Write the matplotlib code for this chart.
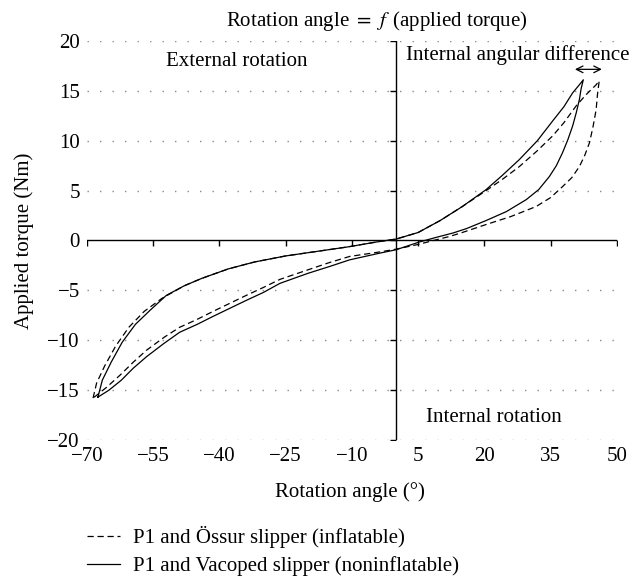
# -*- coding: utf-8 -*-
# Hysteresis loops: rotation angle vs applied torque, two slipper setups

import numpy as np
import matplotlib
matplotlib.use('Agg')
import matplotlib.pyplot as plt

plt.rcParams['font.family'] = ['Liberation Serif', 'DejaVu Serif']
plt.rcParams['mathtext.fontset'] = 'stix'
plt.rcParams['axes.unicode_minus'] = True

# ---------------------------------------------------------------- data ----
# P1 and Vacoped slipper (solid), loading branch (left tip -> right tip)
vac_up_x = [-67.5, -66.5, -64.5, -62.0, -59.0, -55.7, -52.0, -48.0, -44.0, -38.0,
            -32.0, -25.0, -18.0, -11.0, -4.0, 0.0, 5.0, 10.0, 15.0, 20.4,
            24.0, 27.9, 32.0, 35.5, 38.0, 40.0, 41.5, 42.4]
vac_up_y = [-15.7, -14.0, -12.2, -10.2, -8.4, -7.0, -5.5, -4.55, -3.8, -2.85,
            -2.15, -1.55, -1.1, -0.65, -0.12, 0.14, 0.8, 2.0, 3.4, 5.1,
            6.5, 8.1, 10.0, 12.0, 13.4, 14.8, 15.6, 16.1]
# unloading branch (right tip -> left tip)
vac_lo_x = [42.4, 41.9, 41.5, 40.8, 40.0, 38.9, 37.7, 36.3, 34.7, 32.3,
            29.5, 25.0, 20.4, 16.0, 12.9, 9.0, 5.3, 0.0, -3.7, -10.5,
            -15.0, -20.0, -26.3, -30.0, -33.9, -41.4, -45.0, -49.0, -52.5, -56.5,
            -59.5, -62.2, -65.0, -67.5]
vac_lo_y = [16.1, 15.2, 14.1, 12.8, 11.5, 10.1, 8.8, 7.5, 6.4, 5.1,
            4.1, 2.9, 2.0, 1.2, 0.75, 0.3, -0.15, -0.93, -1.27, -1.94,
            -2.6, -3.3, -4.3, -5.2, -6.0, -7.6, -8.4, -9.2, -10.3, -11.65,
            -12.8, -14.0, -15.0, -15.7]

# P1 and Ossur slipper (dashed)
oss_up_x = [-68.6, -67.8, -66.0, -63.5, -60.5, -57.0, -53.0, -48.0, -44.0, -38.0,
            -32.0, -25.0, -18.0, -11.0, -4.0, 0.0, 5.0, 10.0, 15.0, 20.4,
            24.0, 27.9, 32.0, 35.5, 38.0, 40.8, 43.0, 45.3, 46.0]
oss_up_y = [-15.8, -14.3, -12.6, -10.6, -8.7, -7.1, -5.8, -4.55, -3.8, -2.85,
            -2.15, -1.55, -1.1, -0.65, -0.12, 0.14, 0.8, 2.0, 3.4, 5.0,
            6.1, 7.4, 9.0, 10.5, 11.8, 13.5, 14.6, 15.6, 16.0]
oss_lo_x = [46.0, 45.6, 45.3, 44.6, 43.8, 42.7, 41.5, 39.8, 37.7, 35.0,
            31.7, 26.0, 20.4, 15.0, 12.1, 9.1, 5.0, 0.0, -3.7, -10.5,
            -15.0, -20.0, -26.3, -30.0, -33.9, -41.4, -45.0, -49.0, -52.5, -56.5,
            -59.5, -62.5, -65.5, -68.6]
oss_lo_y = [16.0, 14.6, 13.1, 11.4, 9.8, 8.5, 7.4, 6.3, 5.4, 4.3,
            3.4, 2.4, 1.6, 0.8, 0.4, 0.07, -0.4, -0.87, -1.15, -1.6,
            -2.2, -2.95, -3.9, -4.7, -5.5, -7.1, -7.9, -8.7, -9.7, -11.0,
            -12.2, -13.5, -14.7, -15.8]

xticks = [-70, -55, -40, -25, -10, 5, 20, 35, 50]
yticks = [-20, -15, -10, -5, 0, 5, 10, 15, 20]
grid_y = [-20, -15, -10, -5, 5, 10, 15, 20]

lab_oss = u'P1 and \u00d6ssur slipper (inflatable)'
lab_vac = 'P1 and Vacoped slipper (noninflatable)'

# -------------------------------------------------------------- figure ----
font_size = 15
fig = plt.figure(figsize=(6.34, 5.76), dpi=100)
#                   [left, bottom, width, height]
ax = fig.add_axes([0.137, 0.236, 0.836, 0.693])
ax.set_xlim(-70, 50)
ax.set_ylim(-20, 20)
for s in ax.spines.values():
    s.set_visible(False)

# dotted grid
ax.hlines(grid_y, -70, 50, colors='#8a8a8a', linewidth=1.0,
          linestyles=(0, (1, 8)), zorder=1)

# axes through zero
ax.axhline(0, color='k', lw=1.0, zorder=2)
ax.axvline(0, color='k', lw=1.0, zorder=2)
ax.plot(xticks, np.zeros(len(xticks)), ls='none', marker=3, ms=4.5,
        mew=1.0, color='k', zorder=2)
ax.plot(np.zeros(len(yticks)), yticks, ls='none', marker=0, ms=4,
        mew=1.0, color='k', zorder=2)

# tick labels on the outside
ax.set_xticks(xticks)
ax.set_yticks(yticks)
ax.set_xticklabels([str(v).replace('-', u'\u2212') for v in xticks])
ax.set_yticklabels([str(v).replace('-', u'\u2212') for v in yticks])
ax.tick_params(axis='both', length=0, labelsize=font_size)
ax.tick_params(axis='x', pad=5)
ax.tick_params(axis='y', pad=5)

# curves
l_oss, = ax.plot(oss_up_x + oss_lo_x, oss_up_y + oss_lo_y, color='k',
                 lw=0.9, ls=(0, (5, 3)), zorder=3)
l_vac, = ax.plot(vac_up_x + vac_lo_x, vac_up_y + vac_lo_y, color='k',
                 lw=0.9, ls='-', zorder=3)

# labels
ax.set_xlabel(u'Rotation angle (\u00b0)', fontsize=font_size)
ax.xaxis.set_label_coords(0.496, -0.105)
ax.set_ylabel('Applied torque (Nm)', fontsize=font_size)
ax.yaxis.set_label_coords(-0.10, 0.5)

fig.text(0.595, 0.963, r'Rotation angle $=$ $f\,$ (applied torque)',
         ha='center', va='center', fontsize=font_size)
ax.text(-52, 17.9, 'External rotation', ha='left', va='center',
        fontsize=font_size)
ax.text(2.2, 18.6, 'Internal angular difference', ha='left', va='center',
        fontsize=font_size)
ax.text(6.7, -17.7, 'Internal rotation', ha='left', va='center',
        fontsize=font_size)
ax.annotate('', xy=(46.6, 17.15), xytext=(40.5, 17.15),
            arrowprops=dict(arrowstyle='<->', color='k', lw=0.9,
                            shrinkA=0, shrinkB=0, mutation_scale=12))

fig.legend([l_oss, l_vac], [lab_oss, lab_vac], loc='center left',
           bbox_to_anchor=(0.137, 0.0434), frameon=False, fontsize=font_size,
           borderpad=0, borderaxespad=0,
           handlelength=1.6, handletextpad=0.62, labelspacing=0.4)

plt.savefig('out.png', dpi=100)
